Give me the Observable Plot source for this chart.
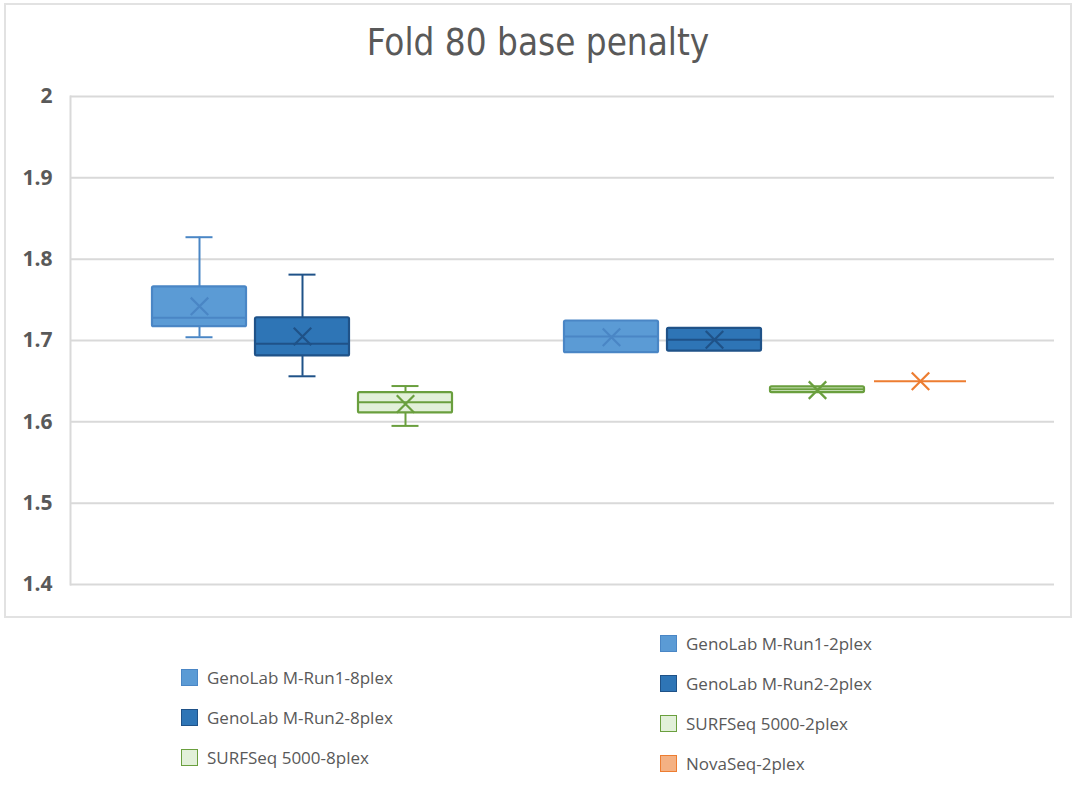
<!DOCTYPE html>
<html>
<head>
<meta charset="utf-8">
<script src="https://cdn.jsdelivr.net/npm/d3@7"></script>
<script src="https://cdn.jsdelivr.net/npm/@observablehq/plot@0.6"></script>
<style>
  html, body { margin: 0; padding: 0; background: #ffffff; }
  body { width: 1080px; height: 792px; position: relative; overflow: hidden; font-family: "Open Sans", "Noto Sans", sans-serif; }
  #frame { position: absolute; left: 4px; top: 3px; width: 1068px; height: 615px; box-sizing: border-box; border: 2px solid #e2e2e2; }
  #title { position: absolute; left: 0; width: 1076px; top: 21px; text-align: center; font-family: "Liberation Sans Narrow", "DejaVu Sans Condensed", "Roboto", sans-serif; font-size: 36.5px; color: #595959; }
  #chart { position: absolute; left: 0; top: 0; }
  .leg { position: absolute; display: flex; align-items: center; font-size: 17px; color: #595959; white-space: nowrap; }
  .sw { width: 17px; height: 17px; box-sizing: border-box; border: 1.5px solid; margin-right: 9px; }
</style>
</head>
<body>
<div id="frame"></div>
<div id="chart"></div>
<div id="title">Fold 80 base penalty</div>
<div id="legend"></div>
<script>
// ---- data ----
const slots = ["GenoLab M-Run1-8plex", "GenoLab M-Run2-8plex", "SURFSeq 5000-8plex", "(empty)",
               "GenoLab M-Run1-2plex", "GenoLab M-Run2-2plex", "SURFSeq 5000-2plex", "NovaSeq-2plex"];
const names   = ["GenoLab M-Run1-8plex", "GenoLab M-Run2-8plex", "SURFSeq 5000-8plex",
                 "GenoLab M-Run1-2plex", "GenoLab M-Run2-2plex", "SURFSeq 5000-2plex", "NovaSeq-2plex"];
const minV    = [1.704, 1.656, 1.595, 1.685, 1.687, 1.636, 1.650];
const q1V     = [1.717, 1.681, 1.611, 1.685, 1.687, 1.636, 1.650];
const medV    = [1.728, 1.696, 1.624, 1.705, 1.701, 1.640, 1.650];
const q3V     = [1.766, 1.728, 1.636, 1.724, 1.715, 1.643, 1.650];
const maxV    = [1.827, 1.781, 1.644, 1.724, 1.715, 1.643, 1.650];
const meanV   = [1.742, 1.705, 1.622, 1.704, 1.701, 1.639, 1.650];
const fills   = ["#5B9BD5", "#2E75B6", "#E2F0D9", "#5B9BD5", "#2E75B6", "#E2F0D9", "#F4B183"];
const strokes = ["#4A86C5", "#1F5288", "#6A9F3E", "#4A86C5", "#1F5288", "#6A9F3E", "#ED7D31"];
const yTicks  = [1.4, 1.5, 1.6, 1.7, 1.8, 1.9, 2.0];
const yTickLabels = ["1.4", "1.5", "1.6", "1.7", "1.8", "1.9", "2"];
const legendLeft  = [0, 1, 2];
const legendRight = [3, 4, 5, 6];

const data = names.map((n, i) => ({
  name: n, min: minV[i], q1: q1V[i], med: medV[i], q3: q3V[i], max: maxV[i], mean: meanV[i],
  fill: fills[i], stroke: strokes[i]
}));
// caps drawn only where the whisker extends beyond the box
const capsHi = data.filter(d => d.max > d.q3);
const capsLo = data.filter(d => d.min < d.q1);

const chart = Plot.plot({
  width: 1080,
  height: 620,
  marginTop: 96,
  marginBottom: 36,
  marginLeft: 70,
  marginRight: 26,
  style: { background: "transparent", overflow: "visible" },
  x: { domain: slots, range: [151, 967], paddingInner: 0.088, paddingOuter: 0, axis: null },
  y: { domain: [1.4, 2.0] },
  marks: [
    Plot.gridY(yTicks, { stroke: "#d9d9d9", strokeOpacity: 1, strokeWidth: 2 }),
    Plot.frame({ anchor: "left", stroke: "#d9d9d9", strokeWidth: 2 }),
    Plot.axisY(yTicks, {
      tickSize: 0, tickPadding: 18,
      tickFormat: (d) => yTickLabels[yTicks.indexOf(d)],
      fontSize: 21, fontWeight: 700, fill: "#595959",
      fontFamily: "Open Sans, Noto Sans, sans-serif",
      label: null
    }),
    // whiskers
    Plot.ruleX(data, { x: "name", y1: "q3", y2: "max", stroke: "stroke", strokeWidth: 2 }),
    Plot.ruleX(data, { x: "name", y1: "min", y2: "q1", stroke: "stroke", strokeWidth: 2 }),
    Plot.tickY(capsHi, { x: "name", y: "max", stroke: "stroke", strokeWidth: 2, insetLeft: 33.5, insetRight: 33.5 }),
    Plot.tickY(capsLo, { x: "name", y: "min", stroke: "stroke", strokeWidth: 2, insetLeft: 33.5, insetRight: 33.5 }),
    // boxes
    Plot.barY(data, { x: "name", y1: "q1", y2: "q3", fill: "fill", stroke: "stroke", strokeWidth: 2.2, rx: 1.5 }),
    // median
    Plot.tickY(data, { x: "name", y: "med", stroke: "stroke", strokeWidth: 2, insetLeft: 1, insetRight: 1 }),
    // mean
    Plot.dot(data, { x: "name", y: "mean", symbol: "times", r: 8, stroke: "stroke", strokeWidth: 2.2 })
  ]
});
document.getElementById("chart").appendChild(chart);

// ---- legend ----
const leg = document.getElementById("legend");
function addItem(i, left, top) {
  const d = document.createElement("div");
  d.className = "leg";
  d.style.left = left + "px";
  d.style.top = top + "px";
  d.style.height = "20px";
  const s = document.createElement("span");
  s.className = "sw";
  s.style.background = fills[i];
  s.style.borderColor = strokes[i];
  d.appendChild(s);
  const t = document.createElement("span");
  t.textContent = names[i];
  d.appendChild(t);
  leg.appendChild(d);
}
legendLeft.forEach((idx, k) => addItem(idx, 181, 667 + k * 40));
legendRight.forEach((idx, k) => addItem(idx, 660, 633 + k * 40));
</script>
</body>
</html>
